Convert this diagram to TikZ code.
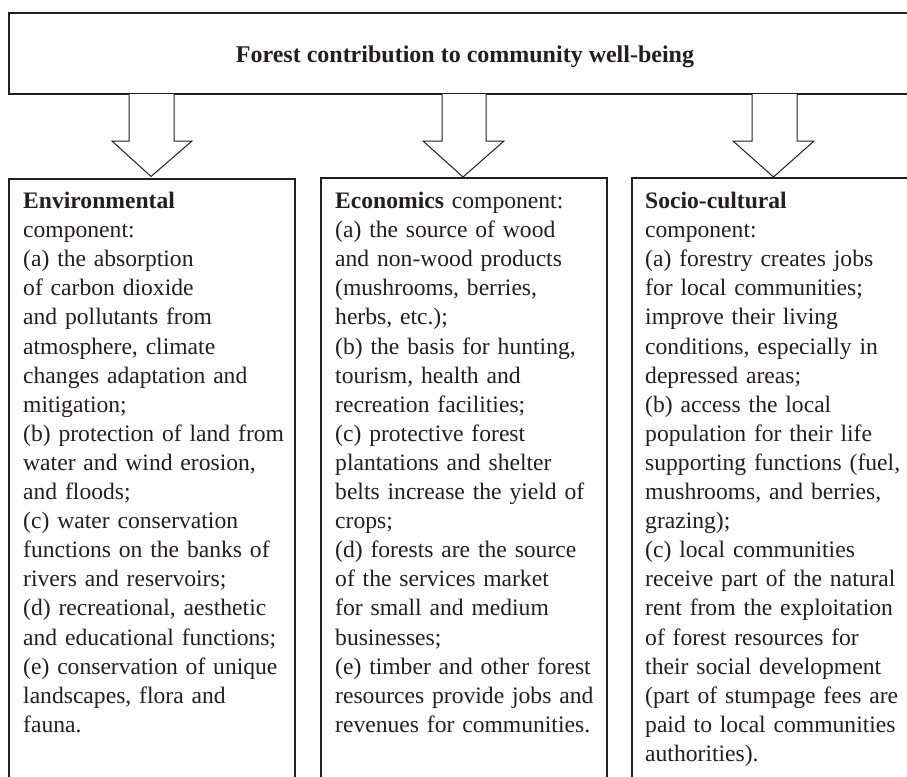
\documentclass[tikz,border=0pt]{standalone}
\usepackage{fontspec}
\setmainfont{Liberation Serif}
\definecolor{ink}{HTML}{231F20}
\begin{document}
\begin{tikzpicture}[x=1pt,y=-1pt,
  frame/.style={draw=ink,line width=1.1pt,fill=white},
  blockarrow/.style={draw=ink,line width=1pt,fill=white,line join=miter},
  bodytext/.style={anchor=north west,inner sep=0pt,align=left,text width=275pt,text=ink,
    font=\fontsize{23.6}{29.1}\selectfont},
  titletext/.style={anchor=base,inner sep=0pt,text=ink,font=\fontsize{24}{28}\selectfont\bfseries}]
\useasboundingbox (0,0) rectangle (907,776);
\clip (0,0) rectangle (907,776);
\fill[white] (0,0) rectangle (907,776);
% top box
\draw[frame] (9,13) rectangle (930,94);
\node[titletext] (title) at (465,63) {Forest contribution to community well-being};
% block arrows
\draw[blockarrow] (129,94) -- (129,141) -- (112,141) -- (151,176.5) -- (192,141) -- (174,141) -- (174,94);
\draw[blockarrow] (442,94) -- (442,141) -- (423,141) -- (463,177) -- (504,141) -- (486,141) -- (486,94);
\draw[blockarrow] (752,94) -- (752,141) -- (733,141) -- (773.5,177) -- (814,141) -- (797,141) -- (797,94);
% component boxes
\draw[frame] (9,179) rectangle (295,800);
\draw[frame] (321,178) rectangle (607,800);
\draw[frame] (632,178) rectangle (930,800);
\node[bodytext] (env) at (23,192) {\textbf{Environmental}\\
component:\\
(a) the absorption\\
of carbon dioxide\\
and pollutants from\\
atmosphere, climate\\
changes adaptation and\\
mitigation;\\
(b) protection of land from\\
water and wind erosion,\\
and floods;\\
(c) water conservation\\
functions on the banks of\\
rivers and reservoirs;\\
(d) recreational, aesthetic\\
and educational functions;\\
(e) conservation of unique\\
landscapes, flora and\\
fauna.};
\node[bodytext] (eco) at (335,192) {\textbf{Economics} component:\\
(a) the source of wood\\
and non-wood products\\
(mushrooms, berries,\\
herbs, etc.);\\
(b) the basis for hunting,\\
tourism, health and\\
recreation facilities;\\
(c) protective forest\\
plantations and shelter\\
belts increase the yield of\\
crops;\\
(d) forests are the source\\
of the services market\\
for small and medium\\
businesses;\\
(e) timber and other forest\\
resources provide jobs and\\
revenues for communities.};
\node[bodytext] (soc) at (645,192) {\textbf{Socio-cultural}\\
component:\\
(a) forestry creates jobs\\
for local communities;\\
improve their living\\
conditions, especially in\\
depressed areas;\\
(b) access the local\\
population for their life\\
supporting functions (fuel,\\
mushrooms, and berries,\\
grazing);\\
(c) local communities\\
receive part of the natural\\
rent from the exploitation\\
of forest resources for\\
their social development\\
(part of stumpage fees are\\
paid to local communities\\
authorities).};
\end{tikzpicture}
\end{document}
